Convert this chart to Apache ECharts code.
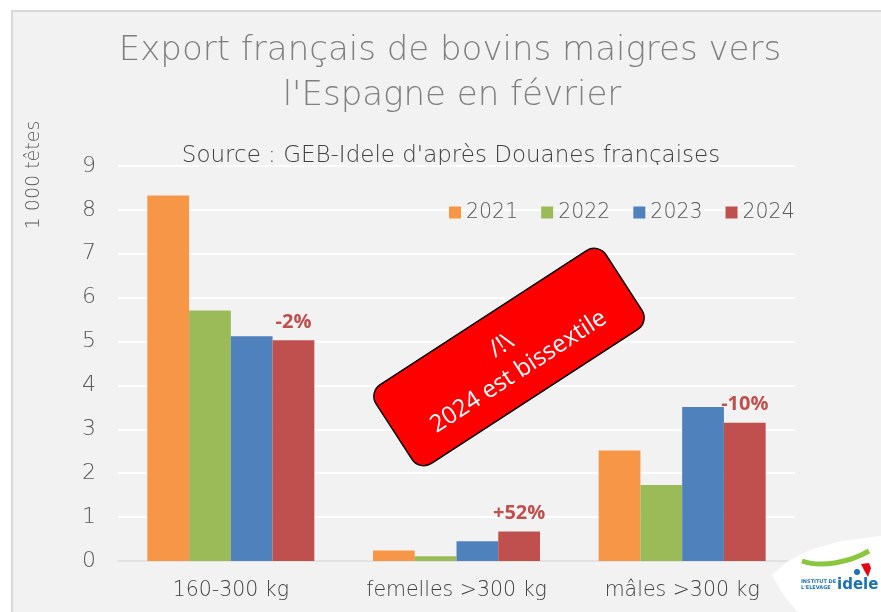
<!DOCTYPE html>
<html>
<head>
<meta charset="utf-8">
<script src="https://cdn.jsdelivr.net/npm/echarts@6/dist/echarts.min.js"></script>
<style>html,body{margin:0;padding:0;background:#fff}#c{width:881px;height:612px}</style>
</head>
<body>
<div id="c"></div>
<script>
const categories = ['160-300 kg', 'femelles >300 kg', 'mâles >300 kg'];
const years = ['2021', '2022', '2023', '2024'];
const v2021 = [8.33, 0.24, 2.52];
const v2022 = [5.71, 0.11, 1.73];
const v2023 = [5.12, 0.45, 3.51];
const v2024 = [5.03, 0.67, 3.15];
const changeLabels = ['-2%', '+52%', '-10%'];
const colors = ['#f79646', '#9bbb59', '#4f81bd', '#c0504d'];
const titleLines = ["Export français de bovins maigres vers", "l'Espagne en février"];
const sourceText = "Source : GEB-Idele d'après Douanes françaises";
const yAxisName = '1 000 têtes';
const noteText = '/!\\\n2024 est bissextile';

const FONT = '"DejaVu Sans", sans-serif';
const chart = echarts.init(document.getElementById('c'), null, {renderer: 'canvas'});
const values = [v2021, v2022, v2023, v2024];

const series = years.map((y, i) => ({
  name: y,
  type: 'bar',
  data: values[i],
  barGap: '0%',
  barCategoryGap: '26%',
  itemStyle: {color: colors[i]},
  label: i === 3 ? {
    show: true, position: 'top', distance: 8,
    formatter: p => changeLabels[p.dataIndex],
    color: '#c0504d', fontWeight: 'bold', fontSize: 20, fontFamily: '"Open Sans", sans-serif'
  } : {show: false}
}));

const Z = 100;
chart.setOption({
  backgroundColor: '#ffffff',
  animation: false,
  grid: {left: 118, right: 86, top: 166, bottom: 51},
  legend: {
    data: years, left: 444, top: 197, icon: 'rect', itemWidth: 12, itemHeight: 12,
    itemGap: 23,
    textStyle: {color: '#595959', fontSize: 20.5, fontFamily: FONT, fontWeight: 300}
  },
  xAxis: {
    type: 'category', data: categories,
    axisLine: {lineStyle: {color: '#d9d9d9', width: 1.5}},
    axisTick: {show: false},
    axisLabel: {interval: 0, hideOverlap: false, color: '#404040', fontSize: 20.5, margin: 19, fontFamily: FONT, fontWeight: 300}
  },
  yAxis: {
    type: 'value', min: 0, max: 9, interval: 1,
    axisLine: {show: false}, axisTick: {show: false},
    splitLine: {lineStyle: {color: '#ffffff', width: 2}},
    axisLabel: {color: '#595959', fontSize: 22, margin: 22, fontFamily: FONT, fontWeight: 300}
  },
  series: series,
  graphic: [
    {type: 'rect', z: -100, shape: {x: 12, y: 11, width: 880, height: 610},
     style: {fill: '#f2f2f2', stroke: '#d9d9d9', lineWidth: 2}},
    {type: 'text', x: 450, y: 51, style: {text: titleLines[0], fill: '#7f7f7f', font: '200 34px ' + FONT, textAlign: 'center', textVerticalAlign: 'middle'}},
    {type: 'text', x: 452, y: 96, style: {text: titleLines[1], fill: '#7f7f7f', font: '200 34px ' + FONT, textAlign: 'center', textVerticalAlign: 'middle'}},
    {type: 'text', x: 451, y: 156, style: {text: sourceText, fill: '#404040', font: '300 23px ' + FONT, textAlign: 'center', textVerticalAlign: 'middle'}},
    {type: 'text', x: 34, y: 175, rotation: Math.PI / 2,
     style: {text: yAxisName, fill: '#595959', font: '300 19px ' + FONT, textAlign: 'center', textVerticalAlign: 'middle'}},
    {type: 'group', x: 509, y: 357, rotation: 33 * Math.PI / 180, z: Z, children: [
      {type: 'rect', z: Z, shape: {x: -137, y: -47, width: 274, height: 94, r: 14},
       style: {fill: '#ff0000', stroke: '#000000', lineWidth: 1.5}},
      {type: 'text', z: Z + 1, x: 0, y: 2, style: {text: noteText, fill: '#ffffff', font: '24px "Open Sans", sans-serif', textAlign: 'center', textVerticalAlign: 'middle', lineHeight: 31}}
    ]},
    {type: 'group', z: Z, children: [
      {type: 'polygon', z: Z, shape: {points: [[772, 575], [788, 561], [812, 549], [842, 541], [881, 536], [881, 612], [798, 612], [784, 596]]},
       style: {fill: '#ffffff'}},
      {type: 'bezierCurve', z: Z + 1, shape: {x1: 802, y1: 561, cpx1: 822, cpy1: 568, cpx2: 850, cpy2: 562, x2: 869, y2: 551},
       style: {fill: 'none', stroke: '#8cc63f', lineWidth: 5}},
      {type: 'polygon', z: Z + 1, shape: {points: [[861, 564], [869, 563], [871, 568], [868, 577], [864, 570]]},
       style: {fill: '#e30613'}},
      {type: 'circle', z: Z + 1, shape: {cx: 857, cy: 572, r: 3}, style: {fill: '#1d71b8'}},
      {type: 'text', z: Z + 1, x: 801, y: 579, style: {text: "INSTITUT DE\nL'ELEVAGE", fill: '#1d71b8', font: 'bold 5px "DejaVu Sans", sans-serif', lineHeight: 6}},
      {type: 'text', z: Z + 1, x: 837, y: 585, style: {text: 'idele', fill: '#1d71b8', font: 'bold 15px "DejaVu Sans", sans-serif', textVerticalAlign: 'middle'}}
    ]}
  ]
});
</script>
</body>
</html>
